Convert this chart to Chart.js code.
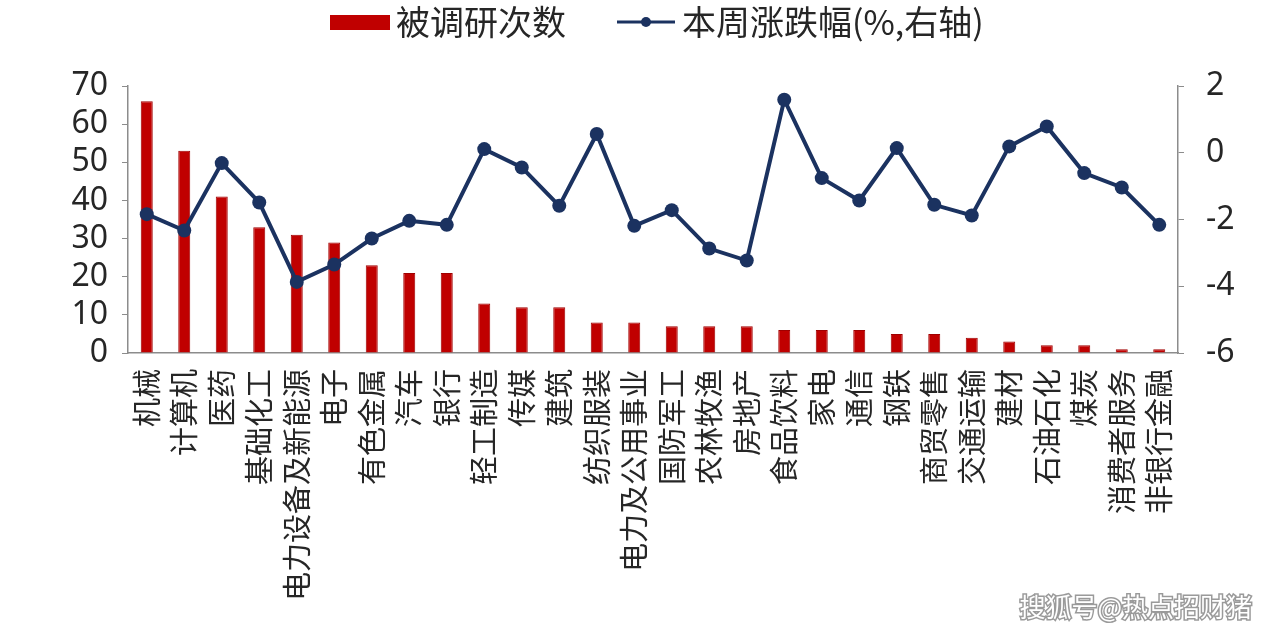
<!DOCTYPE html>
<html>
<head>
<meta charset="utf-8">
<script src="https://cdn.jsdelivr.net/npm/chart.js@4/dist/chart.umd.min.js"></script>
<style>
  html, body { margin: 0; padding: 0; background: #fff; }
  #wrap { width: 1280px; height: 638px; position: relative; }
</style>
</head>
<body>
<div id="wrap"><canvas id="chart"></canvas></div>
<script>
// categories (industries)
const industries = ['机械', '计算机', '医药', '基础化工', '电力设备及新能源', '电子', '有色金属', '汽车', '银行',
  '轻工制造', '传媒', '建筑', '纺织服装', '电力及公用事业', '国防军工', '农林牧渔', '房地产', '食品饮料',
  '家电', '通信', '钢铁', '商贸零售', '交通运输', '建材', '石油石化', '煤炭', '消费者服务', '非银行金融'];

// 被调研次数 (left axis)
const surveyCounts = [66, 53, 41, 33, 31, 29, 23, 21, 21, 13, 12, 12, 8, 8, 7, 7, 7, 6, 6, 6, 5, 5, 4, 3, 2, 2, 1, 1];

// 本周涨跌幅 % (right axis)
const weeklyChange = [-1.84, -2.33, -0.31, -1.49, -3.87, -3.35, -2.57, -2.04, -2.16, 0.11, -0.44, -1.59, 0.56,
  -2.19, -1.72, -2.87, -3.23, 1.59, -0.76, -1.43, 0.14, -1.56, -1.88, 0.19, 0.79, -0.61, -1.04, -2.16];

const leftTicks = [0, 10, 20, 30, 40, 50, 60, 70];
const rightTicks = [-6, -4, -2, 0, 2];

const barLabel = '被调研次数';
const lineLabel = '本周涨跌幅(%,右轴)';

const RED = '#c00000';
const NAVY = '#1b3260';
const AXIS = '#8c8c8c';
const TEXT = '#262626';
const CJK = '"Noto Sans CJK SC", "Noto Sans", sans-serif';
const NUM = '"Noto Sans", "Open Sans", sans-serif';

// legend + watermark drawn on canvas
const topLegend = {
  id: 'topLegend',
  afterDraw(chart) {
    const ctx = chart.ctx;
    ctx.save();
    ctx.font = '34px ' + CJK;
    ctx.textBaseline = 'middle';
    const y = 22;
    ctx.fillStyle = RED;
    ctx.fillRect(330, 15, 60, 15);
    ctx.fillStyle = TEXT;
    ctx.fillText(barLabel, 396, y);
    ctx.strokeStyle = NAVY;
    ctx.lineWidth = 3;
    ctx.beginPath();
    ctx.moveTo(617, y);
    ctx.lineTo(675, y);
    ctx.stroke();
    ctx.fillStyle = NAVY;
    ctx.beginPath();
    ctx.arc(646, y, 5, 0, Math.PI * 2);
    ctx.fill();
    ctx.fillStyle = TEXT;
    ctx.fillText(lineLabel, 682, y);

    ctx.font = '26px ' + CJK;
    ctx.textAlign = 'right';
    ctx.lineWidth = 3;
    ctx.strokeStyle = '#9a9a9a';
    ctx.strokeText('搜狐号@热点招财猪', 1252, 607);
    ctx.fillStyle = '#ffffff';
    ctx.fillText('搜狐号@热点招财猪', 1252, 607);
    ctx.restore();
  }
};

new Chart(document.getElementById('chart'), {
  data: {
    labels: industries,
    datasets: [
      {
        type: 'line',
        label: lineLabel,
        data: weeklyChange,
        yAxisID: 'y1',
        borderColor: NAVY,
        backgroundColor: NAVY,
        borderWidth: 4,
        pointRadius: 7,
        pointBackgroundColor: NAVY,
        pointBorderWidth: 0,
        tension: 0,
        order: 0,
      },
      {
        type: 'bar',
        label: barLabel,
        data: surveyCounts,
        yAxisID: 'y',
        backgroundColor: RED,
        borderColor: '#a00000',
        borderWidth: 1,
        categoryPercentage: 1,
        barPercentage: 0.32,
        order: 1,
      },
    ],
  },
  options: {
    responsive: true,
    maintainAspectRatio: false,
    animation: false,
    layout: { padding: { top: 86, left: 0, right: 0, bottom: 0 } },
    plugins: {
      legend: { display: false },
      tooltip: { enabled: false },
    },
    scales: {
      x: {
        grid: { display: false },
        border: { display: true, color: AXIS, width: 1.5 },
        ticks: {
          autoSkip: false,
          minRotation: 90,
          maxRotation: 90,
          padding: 8,
          color: TEXT,
          font: { family: CJK, size: 29 },
        },
        afterFit(scale) { scale.height = 285; },
      },
      y: {
        position: 'left',
        min: 0,
        max: 70,
        afterBuildTicks(scale) { scale.ticks = leftTicks.map(v => ({ value: v })); },
        grid: { drawOnChartArea: false, drawTicks: true, tickLength: 6, color: AXIS },
        border: { display: true, color: AXIS, width: 1.5 },
        ticks: { autoSkip: false, color: TEXT, padding: 14, font: { family: NUM, size: 32 } },
        afterFit(scale) { scale.width = 128; },
      },
      y1: {
        position: 'right',
        min: -6,
        max: 2,
        afterBuildTicks(scale) { scale.ticks = rightTicks.map(v => ({ value: v })); },
        grid: { drawOnChartArea: false, drawTicks: true, tickLength: 6, color: AXIS },
        border: { display: true, color: AXIS, width: 1.5 },
        ticks: { autoSkip: false, color: TEXT, padding: 22, font: { family: NUM, size: 32 } },
        afterFit(scale) { scale.width = 102; },
      },
    },
  },
  plugins: [topLegend],
});
</script>
</body>
</html>
